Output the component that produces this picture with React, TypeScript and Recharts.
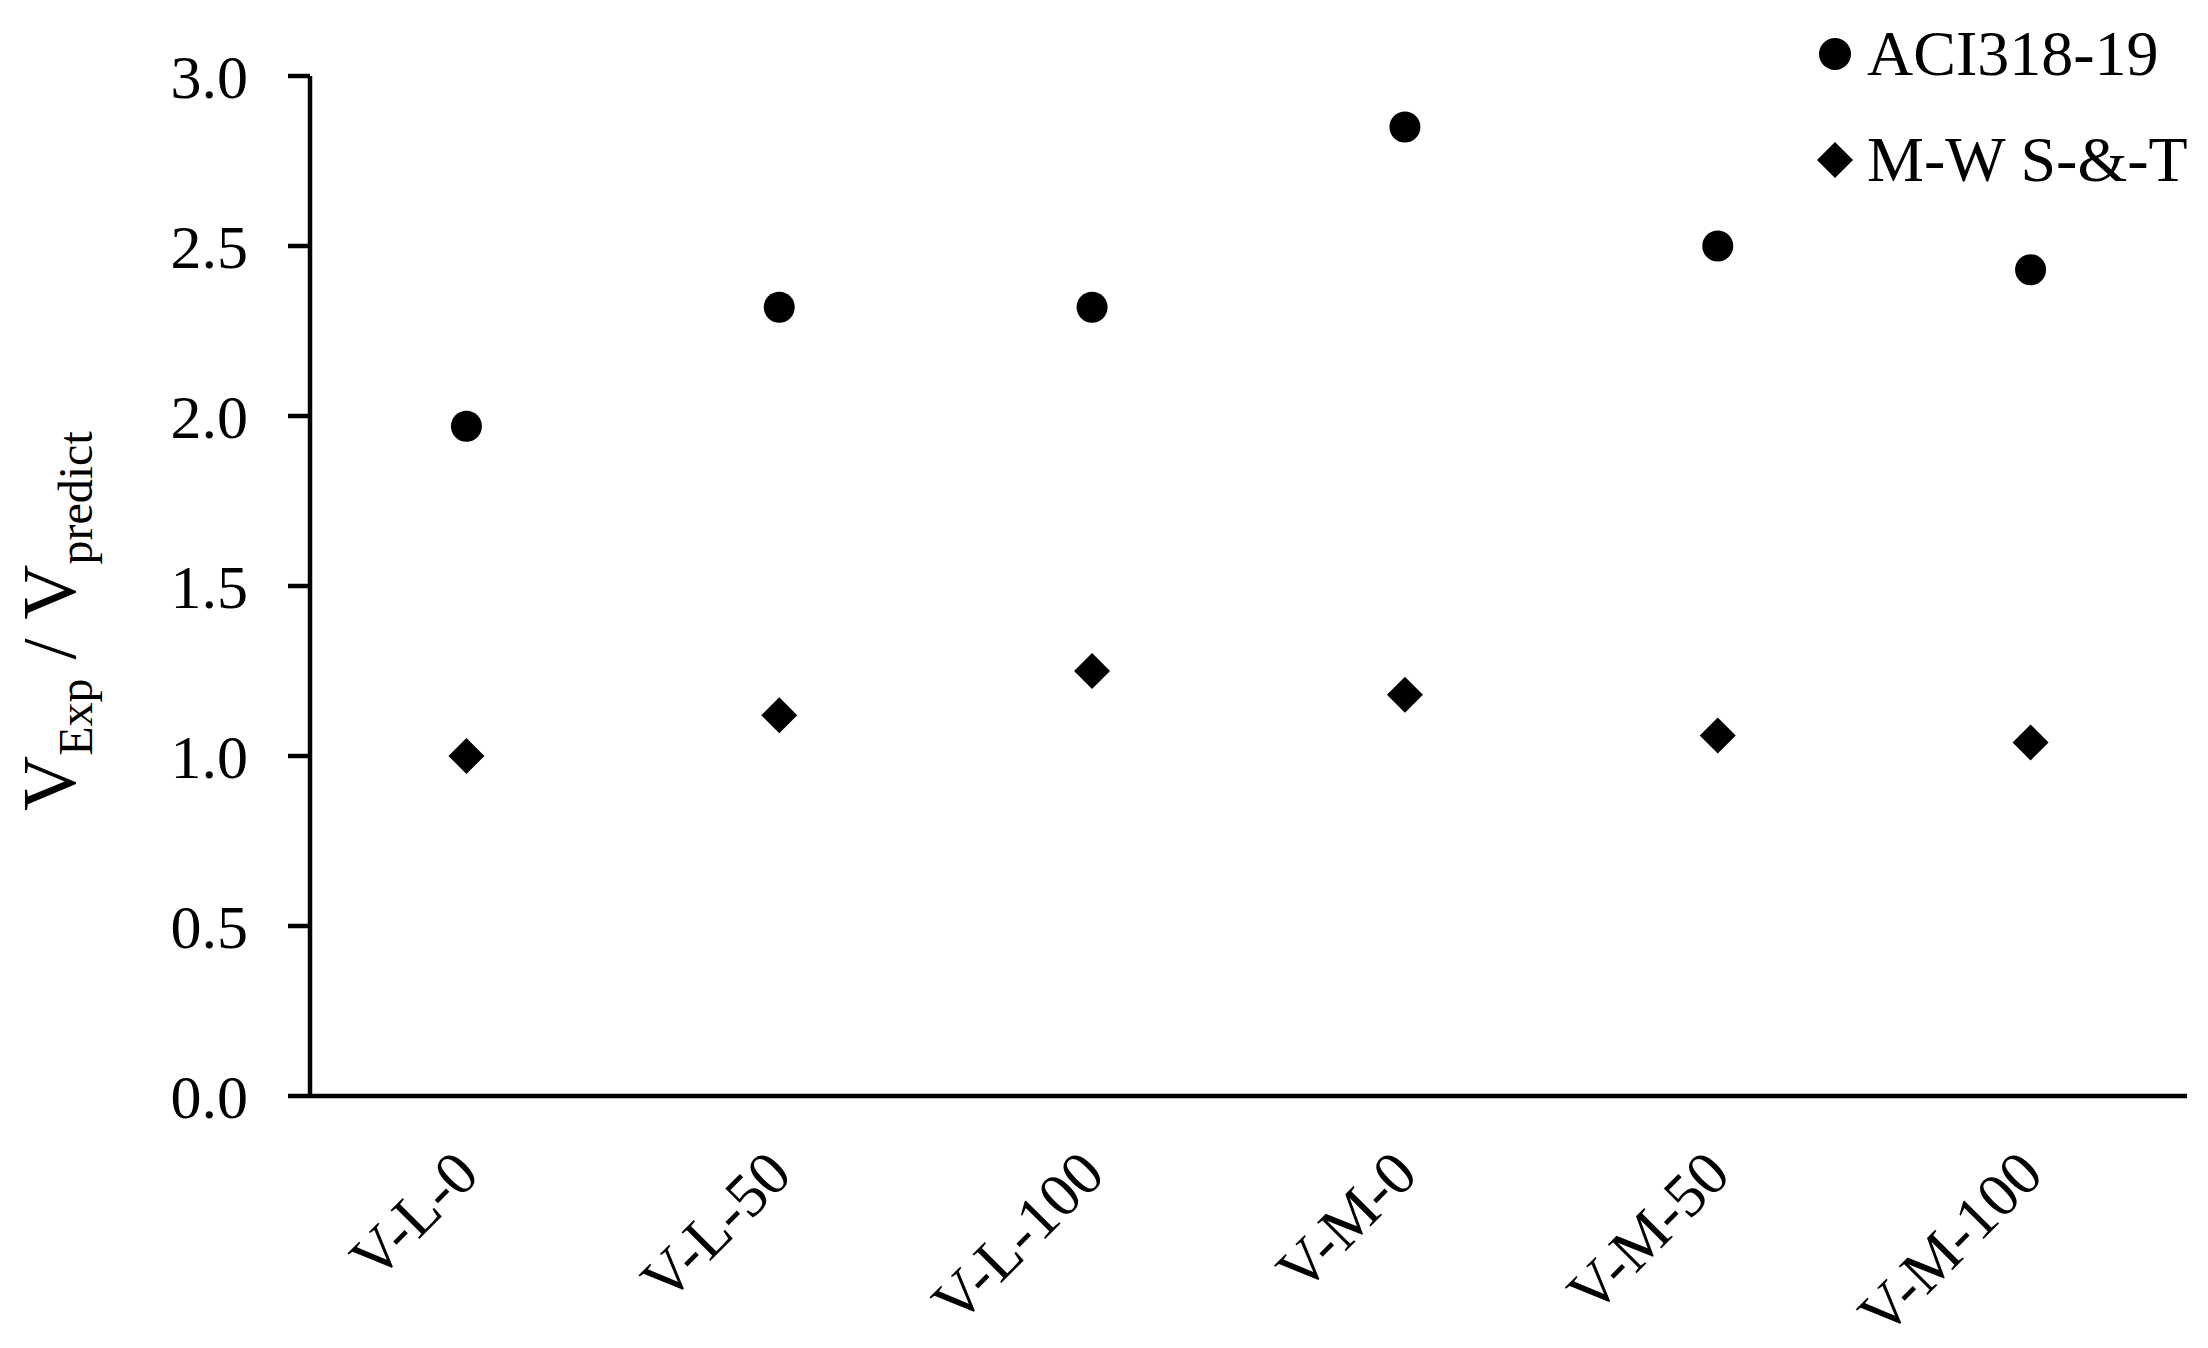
import React from 'react';
import { ComposedChart, Scatter, XAxis, YAxis, Legend } from 'recharts';

const categories = ['V-L-0', 'V-L-50', 'V-L-100', 'V-M-0', 'V-M-50', 'V-M-100'];
const aciValues = [1.97, 2.32, 2.32, 2.85, 2.5, 2.43];
const mwstValues = [1.0, 1.12, 1.25, 1.18, 1.06, 1.04];
const yTicks = [0, 0.5, 1.0, 1.5, 2.0, 2.5, 3.0];
const seriesNames = ['ACI318-19', 'M-W S-&-T'];

const data = categories.map((name, i) => ({ name, aci: aciValues[i], mwst: mwstValues[i] }));

const FONT = '"Liberation Serif", "Times New Roman", Times, serif';

const CircleShape = (props: any) => {
  const { cx, cy } = props;
  return <circle cx={cx} cy={cy} r={15.5} fill="#000" />;
};

const DiamondShape = (props: any) => {
  const { cx, cy } = props;
  const h = 18;
  return <polygon points={`${cx},${cy - h} ${cx + h},${cy} ${cx},${cy + h} ${cx - h},${cy}`} fill="#000" />;
};

const XTick = (props: any) => {
  const { x, y, payload } = props;
  const ax = x + 15;
  const ay = y + 81;
  return (
    <text x={ax} y={ay} transform={`rotate(-45, ${ax}, ${ay})`} textAnchor="end" fontFamily={FONT} fontSize={62} fill="#000">
      {payload.value}
    </text>
  );
};

const YLabel = (props: any) => {
  const { viewBox } = props;
  const cx = 75;
  const cy = viewBox.y + viewBox.height / 2 + 35;
  return (
    <text x={cx} y={cy} transform={`rotate(-90, ${cx}, ${cy})`} textAnchor="middle" fontFamily={FONT} fontSize={76} fill="#000">
      <tspan>V</tspan>
      <tspan fontSize={48} dy={17}>Exp</tspan>
      <tspan dy={-17}>{'\u00a0/\u00a0'}</tspan>
      <tspan>V</tspan>
      <tspan fontSize={48} dy={17}>predict</tspan>
    </text>
  );
};

const LegendContent = () => (
  <div style={{ fontFamily: FONT, fontSize: 64, color: '#000', lineHeight: 1 }}>
    {seriesNames.map((n, i) => (
      <div key={n} style={{ display: 'flex', alignItems: 'center', height: 106 }}>
        <svg width={36} height={36} style={{ display: 'block' }}>
          {i === 0 ? <circle cx={18} cy={18} r={16} fill="#000" /> : <polygon points="18,0 36,18 18,36 0,18" fill="#000" />}
        </svg>
        <span style={{ marginLeft: 14, whiteSpace: 'nowrap' }}>{n}</span>
      </div>
    ))}
  </div>
);

const PLOT_WIDTH = 2208 - 310 - 21;
const HALF_BAND = PLOT_WIDTH / categories.length / 2;

export default function App() {
  return (
    <div style={{ width: 2208, height: 1348, background: '#fff' }}>
      <style>{'body{margin:0;background:#fff}'}</style>
      <ComposedChart width={2208} height={1348} data={data} margin={{ top: 76, right: 21, bottom: 0, left: 0 }}>
        <XAxis
          dataKey="name"
          type="category"
          height={252}
          interval={0}
          padding={{ left: HALF_BAND, right: HALF_BAND }}
          tickLine={false}
          tickSize={0}
          tickMargin={0}
          axisLine={{ stroke: '#000', strokeWidth: 4.5 }}
          tick={<XTick />}
        />
        <YAxis
          width={310}
          type="number"
          domain={[0, 3]}
          ticks={yTicks}
          interval={0}
          tickFormatter={(v: number) => v.toFixed(1)}
          tickSize={22}
          tickMargin={40}
          axisLine={{ stroke: '#000', strokeWidth: 4.5 }}
          tickLine={{ stroke: '#000', strokeWidth: 4.5 }}
          tick={{ fill: '#000', fontSize: 62, fontFamily: FONT }}
          label={{ content: <YLabel /> }}
        />
        <Legend
          layout="horizontal"
          verticalAlign="middle"
          align="center"
          content={<LegendContent />}
          wrapperStyle={{ left: 1817, top: 1, width: 'auto', height: 'auto' }}
        />
        <Scatter name={seriesNames[0]} dataKey="aci" fill="#000" shape={<CircleShape />} isAnimationActive={false} />
        <Scatter name={seriesNames[1]} dataKey="mwst" fill="#000" shape={<DiamondShape />} isAnimationActive={false} />
      </ComposedChart>
    </div>
  );
}
